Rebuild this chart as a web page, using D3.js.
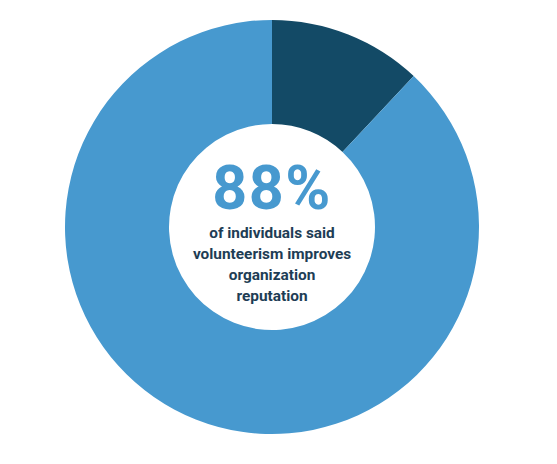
<!DOCTYPE html>
<html><head><meta charset="utf-8">
<script src="https://cdn.jsdelivr.net/npm/d3@7"></script>
<style>html,body{margin:0;padding:0;background:#fff;}</style>
</head><body>
<svg id="c" width="557" height="464"></svg>
<script>
const categories = ["Improves reputation", "Other"];
const values = [88, 12];
const colors = ["#4799cf", "#134a66"];
const bigLabel = "88%";
const captionLines = ["of individuals said", "volunteerism improves", "organization", "reputation"];

const svg = d3.select("#c");
const cx = 272, cy = 227, outerR = 207, innerR = 103;
const g = svg.append("g").attr("transform", `translate(${cx},${cy})`);

// draw "Other" starting at 12 o'clock clockwise, then the 88% slice
const pie = d3.pie().sort(null).value(d => d.v).startAngle(0).endAngle(2*Math.PI);
const data = [{k: categories[1], v: values[1], c: colors[1]}, {k: categories[0], v: values[0], c: colors[0]}];
const arc = d3.arc().innerRadius(innerR).outerRadius(outerR);
g.selectAll("path").data(pie(data)).join("path")
  .attr("d", arc).attr("fill", d => d.data.c);

g.append("text").attr("x", 0).attr("y", -18.5)
  .attr("text-anchor", "middle")
  .attr("font-family", "Roboto, sans-serif").attr("font-weight", 700)
  .attr("font-size", 61).attr("letter-spacing", 1.5).attr("fill", "#4799cf")
  .text(bigLabel);

g.selectAll("text.cap").data(captionLines).join("text").attr("class","cap")
  .attr("x", 0).attr("y", (d,i) => 11 + i*21)
  .attr("text-anchor", "middle")
  .attr("font-family", "Roboto, sans-serif").attr("font-weight", 700)
  .attr("font-size", 15.4).attr("fill", "#1e3d55")
  .text(d => d);
</script>
</body></html>
